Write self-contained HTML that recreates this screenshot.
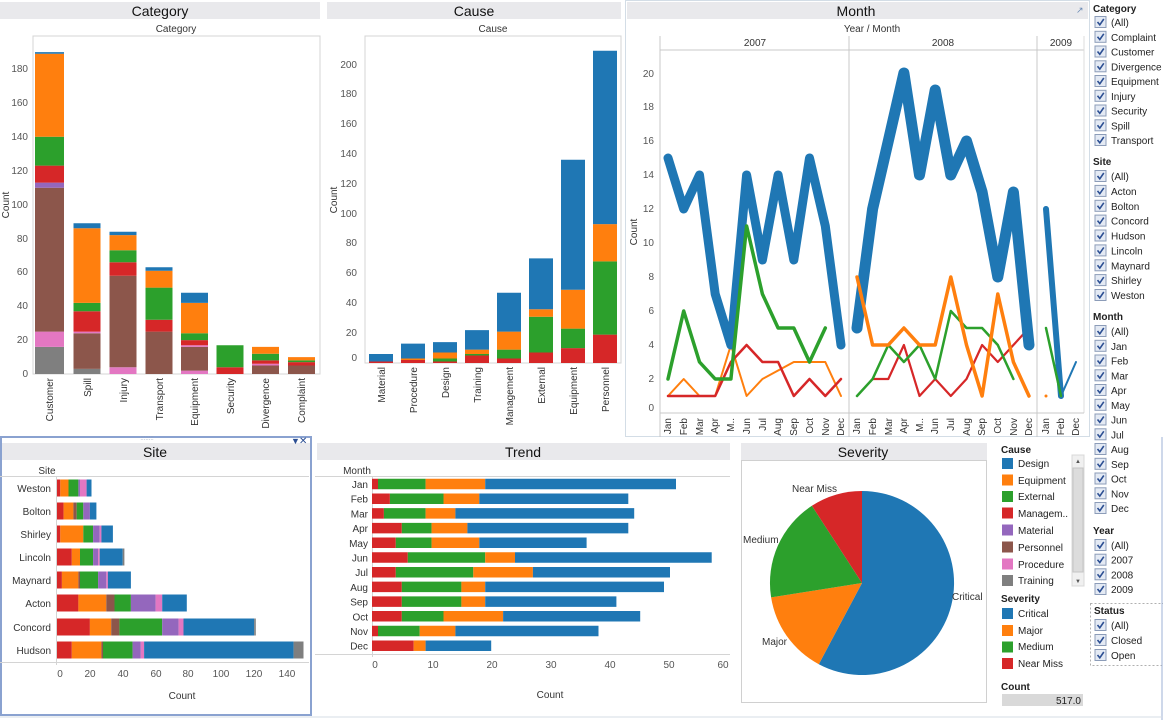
<!DOCTYPE html>
<html><head><meta charset="utf-8"><style>
html,body{margin:0;padding:0;background:#fff}
svg{display:block;font-family:"Liberation Sans",Arial,sans-serif}
.t{font-size:10px;fill:#555}
.tl{font-size:10px;fill:#333}
.h{font-size:14px;fill:#111}
.f{font-size:10px;fill:#222}
.fb{font-size:10px;fill:#222;font-weight:bold}
</style></head><body>
<svg width="1163" height="720" viewBox="0 0 1163 720">
<defs>
<g id="cb"><rect x="0" y="-5.5" width="11" height="11" fill="#e4eaf4" stroke="#8c9cb8" stroke-width="1"/><path d="M2.5,0 L4.8,2.8 L8.8,-3" stroke="#2c4f93" stroke-width="1.6" fill="none"/></g>
</defs>
<rect width="1163" height="720" fill="#fff"/>
<!-- ================= CATEGORY ================= -->
<rect x="0" y="2" width="320" height="17" fill="#e9e9ec"/>
<text x="160" y="16" class="h" text-anchor="middle">Category</text>
<text x="176" y="32" class="tl" text-anchor="middle">Category</text>
<rect x="33" y="36" width="287" height="338" fill="none" stroke="#d4d4d4"/>
<g class="t" text-anchor="end">
<text x="28" y="377">0</text><text x="28" y="343">20</text><text x="28" y="309">40</text><text x="28" y="275">60</text><text x="28" y="242">80</text><text x="28" y="208">100</text><text x="28" y="174">120</text><text x="28" y="140">140</text><text x="28" y="106">160</text><text x="28" y="72">180</text>
</g>
<text x="9" y="205" class="tl" transform="rotate(-90 9 205)" text-anchor="middle">Count</text>
<g stroke-width="29">
<line x1="49.5" x2="49.5" y1="374" y2="346.9" stroke="#7f7f7f"/><line x1="49.5" x2="49.5" y1="346.9" y2="331.6" stroke="#e377c2"/><line x1="49.5" x2="49.5" y1="331.6" y2="187.7" stroke="#8c564b"/><line x1="49.5" x2="49.5" y1="187.7" y2="182.6" stroke="#9467bd"/><line x1="49.5" x2="49.5" y1="182.6" y2="165.6" stroke="#d62728"/><line x1="49.5" x2="49.5" y1="165.6" y2="136.8" stroke="#2ca02c"/><line x1="49.5" x2="49.5" y1="136.8" y2="53.8" stroke="#ff7f0e"/><line x1="49.5" x2="49.5" y1="53.8" y2="52.1" stroke="#1f77b4"/>
</g>
<g stroke-width="27">
<line x1="87" x2="87" y1="374" y2="368.9" stroke="#7f7f7f"/><line x1="87" x2="87" y1="368.9" y2="333.3" stroke="#8c564b"/><line x1="87" x2="87" y1="333.3" y2="331.6" stroke="#e377c2"/><line x1="87" x2="87" y1="331.6" y2="311.3" stroke="#d62728"/><line x1="87" x2="87" y1="311.3" y2="302.9" stroke="#2ca02c"/><line x1="87" x2="87" y1="302.9" y2="228.3" stroke="#ff7f0e"/><line x1="87" x2="87" y1="228.3" y2="223.2" stroke="#1f77b4"/>
<line x1="123" x2="123" y1="374" y2="367.2" stroke="#e377c2"/><line x1="123" x2="123" y1="367.2" y2="275.7" stroke="#8c564b"/><line x1="123" x2="123" y1="275.7" y2="262.2" stroke="#d62728"/><line x1="123" x2="123" y1="262.2" y2="250.3" stroke="#2ca02c"/><line x1="123" x2="123" y1="250.3" y2="235.1" stroke="#ff7f0e"/><line x1="123" x2="123" y1="235.1" y2="231.7" stroke="#1f77b4"/>
<line x1="159" x2="159" y1="374" y2="331.6" stroke="#8c564b"/><line x1="159" x2="159" y1="331.6" y2="319.8" stroke="#d62728"/><line x1="159" x2="159" y1="319.8" y2="287.6" stroke="#2ca02c"/><line x1="159" x2="159" y1="287.6" y2="270.7" stroke="#ff7f0e"/><line x1="159" x2="159" y1="270.7" y2="267.3" stroke="#1f77b4"/>
<line x1="194.5" x2="194.5" y1="374" y2="370.6" stroke="#e377c2"/><line x1="194.5" x2="194.5" y1="370.6" y2="346.9" stroke="#8c564b"/><line x1="194.5" x2="194.5" y1="346.9" y2="345.2" stroke="#e377c2"/><line x1="194.5" x2="194.5" y1="345.2" y2="340.1" stroke="#d62728"/><line x1="194.5" x2="194.5" y1="340.1" y2="333.3" stroke="#2ca02c"/><line x1="194.5" x2="194.5" y1="333.3" y2="302.9" stroke="#ff7f0e"/><line x1="194.5" x2="194.5" y1="302.9" y2="292.7" stroke="#1f77b4"/>
<line x1="230" x2="230" y1="374" y2="367.2" stroke="#d62728"/><line x1="230" x2="230" y1="367.2" y2="345.2" stroke="#2ca02c"/>
<line x1="265.5" x2="265.5" y1="374" y2="365.5" stroke="#8c564b"/><line x1="265.5" x2="265.5" y1="365.5" y2="363.8" stroke="#e377c2"/><line x1="265.5" x2="265.5" y1="363.8" y2="360.4" stroke="#d62728"/><line x1="265.5" x2="265.5" y1="360.4" y2="353.7" stroke="#2ca02c"/><line x1="265.5" x2="265.5" y1="353.7" y2="346.9" stroke="#ff7f0e"/>
<line x1="301.5" x2="301.5" y1="374" y2="365.5" stroke="#8c564b"/><line x1="301.5" x2="301.5" y1="365.5" y2="362.1" stroke="#d62728"/><line x1="301.5" x2="301.5" y1="362.1" y2="360.4" stroke="#2ca02c"/><line x1="301.5" x2="301.5" y1="360.4" y2="357.1" stroke="#ff7f0e"/>
</g>
<g class="tl" text-anchor="end">
<text transform="translate(53,378) rotate(-90)">Customer</text><text transform="translate(91,378) rotate(-90)">Spill</text><text transform="translate(127,378) rotate(-90)">Injury</text><text transform="translate(163,378) rotate(-90)">Transport</text><text transform="translate(198,378) rotate(-90)">Equipment</text><text transform="translate(234,378) rotate(-90)">Security</text><text transform="translate(269,378) rotate(-90)">Divergence</text><text transform="translate(305,378) rotate(-90)">Complaint</text>
</g>
<!-- ================= CAUSE ================= -->
<rect x="327" y="2" width="294" height="17" fill="#e9e9ec"/>
<text x="474" y="16" class="h" text-anchor="middle">Cause</text>
<text x="493" y="32" class="tl" text-anchor="middle">Cause</text>
<rect x="365" y="36" width="256" height="327" fill="none" stroke="#d4d4d4"/>
<g class="t" text-anchor="end">
<text x="357" y="361">0</text><text x="357" y="336">20</text><text x="357" y="306">40</text><text x="357" y="276">60</text><text x="357" y="246">80</text><text x="357" y="217">100</text><text x="357" y="187">120</text><text x="357" y="157">140</text><text x="357" y="127">160</text><text x="357" y="97">180</text><text x="357" y="68">200</text>
</g>
<text x="337" y="200" class="tl" transform="rotate(-90 337 200)" text-anchor="middle">Count</text>
<g stroke-width="24">
<line x1="381" x2="381" y1="363" y2="361.5" stroke="#d62728"/><line x1="381" x2="381" y1="361.5" y2="354" stroke="#1f77b4"/>
<line x1="413" x2="413" y1="363" y2="360" stroke="#d62728"/><line x1="413" x2="413" y1="360" y2="358.5" stroke="#ff7f0e"/><line x1="413" x2="413" y1="358.5" y2="343.6" stroke="#1f77b4"/>
<line x1="445" x2="445" y1="363" y2="361.5" stroke="#d62728"/><line x1="445" x2="445" y1="361.5" y2="358.5" stroke="#2ca02c"/><line x1="445" x2="445" y1="358.5" y2="352.5" stroke="#ff7f0e"/><line x1="445" x2="445" y1="352.5" y2="342.1" stroke="#1f77b4"/>
<line x1="477" x2="477" y1="363" y2="355.5" stroke="#d62728"/><line x1="477" x2="477" y1="355.5" y2="354" stroke="#2ca02c"/><line x1="477" x2="477" y1="354" y2="349.6" stroke="#ff7f0e"/><line x1="477" x2="477" y1="349.6" y2="330.1" stroke="#1f77b4"/>
<line x1="509" x2="509" y1="363" y2="358.5" stroke="#d62728"/><line x1="509" x2="509" y1="358.5" y2="349.6" stroke="#2ca02c"/><line x1="509" x2="509" y1="349.6" y2="331.6" stroke="#ff7f0e"/><line x1="509" x2="509" y1="331.6" y2="292.8" stroke="#1f77b4"/>
<line x1="541" x2="541" y1="363" y2="352.5" stroke="#d62728"/><line x1="541" x2="541" y1="352.5" y2="316.7" stroke="#2ca02c"/><line x1="541" x2="541" y1="316.7" y2="309.2" stroke="#ff7f0e"/><line x1="541" x2="541" y1="309.2" y2="258.4" stroke="#1f77b4"/>
<line x1="573" x2="573" y1="363" y2="348.1" stroke="#d62728"/><line x1="573" x2="573" y1="348.1" y2="328.6" stroke="#2ca02c"/><line x1="573" x2="573" y1="328.6" y2="289.8" stroke="#ff7f0e"/><line x1="573" x2="573" y1="289.8" y2="159.8" stroke="#1f77b4"/>
<line x1="605" x2="605" y1="363" y2="334.6" stroke="#d62728"/><line x1="605" x2="605" y1="334.6" y2="261.4" stroke="#2ca02c"/><line x1="605" x2="605" y1="261.4" y2="224.1" stroke="#ff7f0e"/><line x1="605" x2="605" y1="224.1" y2="50.8" stroke="#1f77b4"/>
</g>
<g class="tl" text-anchor="end">
<text transform="translate(385,367) rotate(-90)">Material</text><text transform="translate(417,367) rotate(-90)">Procedure</text><text transform="translate(449,367) rotate(-90)">Design</text><text transform="translate(481,367) rotate(-90)">Training</text><text transform="translate(513,367) rotate(-90)">Management</text><text transform="translate(545,367) rotate(-90)">External</text><text transform="translate(577,367) rotate(-90)">Equipment</text><text transform="translate(609,367) rotate(-90)">Personnel</text>
</g>
<!-- ================= MONTH ================= -->
<rect x="625.5" y="0.5" width="464" height="436" fill="none" stroke="#d3dde6"/>
<rect x="627" y="2" width="461" height="17" fill="#e9e9ec"/>
<text x="856" y="16" class="h" text-anchor="middle">Month</text>
<text x="1076" y="13" font-size="9" fill="#6a8ab5">↗</text>
<text x="872" y="32" class="tl" text-anchor="middle">Year  /  Month</text>
<line x1="660" y1="36" x2="660" y2="437" stroke="#c8c8c8"/>
<line x1="660" y1="50" x2="1084" y2="50" stroke="#c8c8c8"/>
<line x1="849" y1="36" x2="849" y2="437" stroke="#c8c8c8"/>
<line x1="1037" y1="36" x2="1037" y2="437" stroke="#c8c8c8"/>
<line x1="1084" y1="36" x2="1084" y2="413" stroke="#dcdcdc"/>
<line x1="660" y1="413" x2="1084" y2="413" stroke="#c8c8c8"/>
<g class="tl" text-anchor="middle"><text x="755" y="46">2007</text><text x="943" y="46">2008</text><text x="1061" y="46">2009</text></g>
<g class="t" text-anchor="end">
<text x="654" y="411">0</text><text x="654" y="382">2</text><text x="654" y="348">4</text><text x="654" y="314">6</text><text x="654" y="280">8</text><text x="654" y="246">10</text><text x="654" y="212">12</text><text x="654" y="178">14</text><text x="654" y="144">16</text><text x="654" y="110">18</text><text x="654" y="77">20</text>
</g>
<text x="637" y="232" class="tl" transform="rotate(-90 637 232)" text-anchor="middle">Count</text>
<g fill="none" stroke-linejoin="round" stroke-linecap="round">
<polyline stroke="#ff7f0e" stroke-width="2" points="668,396 683.7,379 699.5,396 715.2,396 730.9,345 746.6,396 762.4,379 778.1,370.5 793.8,362 809.5,362 825.3,362 841,396"/>
<polyline stroke="#d62728" stroke-width="2.5" points="668,396 683.7,396 699.5,396 715.2,396 730.9,362 746.6,345 762.4,362 778.1,362 793.8,396 809.5,379 825.3,396 841,379"/>
<polyline stroke="#1f77b4" stroke-width="9" points="668,158 683.7,209 699.5,175 715.2,294 730.9,345 746.6,175 762.4,260 778.1,175 793.8,260 809.5,158 825.3,226 841,345"/>
<polyline stroke="#2ca02c" stroke-width="3.5" points="668,379 683.7,311 699.5,362 715.2,379 730.9,379 746.6,226 762.4,294 778.1,328 793.8,328 809.5,362 825.3,328"/>
<polyline stroke="#d62728" stroke-width="2.2" points="872.6,379 888.3,379 903.9,345 919.5,396 935.2,379 950.8,396 966.5,379 982.1,345 997.8,362 1013.4,345 1029,328"/>
<polyline stroke="#2ca02c" stroke-width="2.5" points="857,396 872.6,379 888.3,345 903.9,362 919.5,345 935.2,379 950.8,311 966.5,328 982.1,328 997.8,345 1013.4,379"/>
<polyline stroke="#1f77b4" stroke-width="11" points="857,328 872.6,209 888.3,141 903.9,73 919.5,175 935.2,90 950.8,175 966.5,141 982.1,192 997.8,277 1013.4,192 1029,345"/>
<polyline stroke="#ff7f0e" stroke-width="3.5" points="857,277 872.6,345 888.3,345 903.9,328 919.5,345 935.2,345 950.8,277 966.5,345 982.1,396 997.8,294 1013.4,362 1029,396"/>
<polyline stroke="#1f77b4" stroke-width="6" points="1046,209 1061,396"/>
<polyline stroke="#1f77b4" stroke-width="2" points="1061,396 1076,362"/>
<polyline stroke="#2ca02c" stroke-width="2.5" points="1046,328 1061,396"/>
</g>
<circle cx="1046" cy="396" r="1.5" fill="#ff7f0e"/>
<g class="tl" text-anchor="end">
<text transform="translate(671,418) rotate(-90)">Jan</text><text transform="translate(687,418) rotate(-90)">Feb</text><text transform="translate(703,418) rotate(-90)">Mar</text><text transform="translate(718,418) rotate(-90)">Apr</text><text transform="translate(734,418) rotate(-90)">M..</text><text transform="translate(750,418) rotate(-90)">Jun</text><text transform="translate(766,418) rotate(-90)">Jul</text><text transform="translate(781,418) rotate(-90)">Aug</text><text transform="translate(797,418) rotate(-90)">Sep</text><text transform="translate(813,418) rotate(-90)">Oct</text><text transform="translate(829,418) rotate(-90)">Nov</text><text transform="translate(844,418) rotate(-90)">Dec</text>
<text transform="translate(860,418) rotate(-90)">Jan</text><text transform="translate(876,418) rotate(-90)">Feb</text><text transform="translate(892,418) rotate(-90)">Mar</text><text transform="translate(907,418) rotate(-90)">Apr</text><text transform="translate(923,418) rotate(-90)">M..</text><text transform="translate(938,418) rotate(-90)">Jun</text><text transform="translate(954,418) rotate(-90)">Jul</text><text transform="translate(970,418) rotate(-90)">Aug</text><text transform="translate(985,418) rotate(-90)">Sep</text><text transform="translate(1001,418) rotate(-90)">Oct</text><text transform="translate(1017,418) rotate(-90)">Nov</text><text transform="translate(1032,418) rotate(-90)">Dec</text>
<text transform="translate(1049,418) rotate(-90)">Jan</text><text transform="translate(1064,418) rotate(-90)">Feb</text><text transform="translate(1079,418) rotate(-90)">Dec</text>
</g>
<!-- ================= FILTERS ================= -->
<g class="fb"><text x="1093" y="12">Category</text><text x="1093" y="165">Site</text><text x="1093" y="320">Month</text><text x="1093" y="534">Year</text></g>
<g>
<use href="#cb" x="1095" y="22"/><use href="#cb" x="1095" y="36.8"/><use href="#cb" x="1095" y="51.5"/><use href="#cb" x="1095" y="66.3"/><use href="#cb" x="1095" y="81"/><use href="#cb" x="1095" y="95.8"/><use href="#cb" x="1095" y="110.5"/><use href="#cb" x="1095" y="125.3"/><use href="#cb" x="1095" y="140"/>
<use href="#cb" x="1095" y="176"/><use href="#cb" x="1095" y="190.9"/><use href="#cb" x="1095" y="205.8"/><use href="#cb" x="1095" y="220.6"/><use href="#cb" x="1095" y="235.5"/><use href="#cb" x="1095" y="250.4"/><use href="#cb" x="1095" y="265.3"/><use href="#cb" x="1095" y="280.1"/><use href="#cb" x="1095" y="295"/>
<use href="#cb" x="1095" y="331"/><use href="#cb" x="1095" y="345.8"/><use href="#cb" x="1095" y="360.5"/><use href="#cb" x="1095" y="375.3"/><use href="#cb" x="1095" y="390"/><use href="#cb" x="1095" y="404.8"/><use href="#cb" x="1095" y="419.5"/><use href="#cb" x="1095" y="434.3"/><use href="#cb" x="1095" y="449"/><use href="#cb" x="1095" y="463.8"/><use href="#cb" x="1095" y="478.5"/><use href="#cb" x="1095" y="493.3"/><use href="#cb" x="1095" y="508"/>
<use href="#cb" x="1095" y="545"/><use href="#cb" x="1095" y="559.7"/><use href="#cb" x="1095" y="574.3"/><use href="#cb" x="1095" y="589"/>
<use href="#cb" x="1095" y="625"/><use href="#cb" x="1095" y="640"/><use href="#cb" x="1095" y="655"/>
</g>
<g class="f">
<text x="1111" y="26">(All)</text><text x="1111" y="40.8">Complaint</text><text x="1111" y="55.5">Customer</text><text x="1111" y="70.3">Divergence</text><text x="1111" y="85">Equipment</text><text x="1111" y="99.8">Injury</text><text x="1111" y="114.5">Security</text><text x="1111" y="129.3">Spill</text><text x="1111" y="144">Transport</text>
<text x="1111" y="180">(All)</text><text x="1111" y="194.9">Acton</text><text x="1111" y="209.8">Bolton</text><text x="1111" y="224.6">Concord</text><text x="1111" y="239.5">Hudson</text><text x="1111" y="254.4">Lincoln</text><text x="1111" y="269.3">Maynard</text><text x="1111" y="284.1">Shirley</text><text x="1111" y="299">Weston</text>
<text x="1111" y="335">(All)</text><text x="1111" y="349.8">Jan</text><text x="1111" y="364.5">Feb</text><text x="1111" y="379.3">Mar</text><text x="1111" y="394">Apr</text><text x="1111" y="408.8">May</text><text x="1111" y="423.5">Jun</text><text x="1111" y="438.3">Jul</text><text x="1111" y="453">Aug</text><text x="1111" y="467.8">Sep</text><text x="1111" y="482.5">Oct</text><text x="1111" y="497.3">Nov</text><text x="1111" y="512">Dec</text>
<text x="1111" y="549">(All)</text><text x="1111" y="563.7">2007</text><text x="1111" y="578.3">2008</text><text x="1111" y="593">2009</text>
<text x="1111" y="629">(All)</text><text x="1111" y="644">Closed</text><text x="1111" y="659">Open</text>
</g>
<rect x="1090.5" y="603.5" width="75" height="62" fill="none" stroke="#b0b0b0" stroke-dasharray="2,2"/>
<text x="1094" y="614" class="fb">Status</text>
<line x1="1162" y1="437" x2="1162" y2="720" stroke="#9db0d6"/>
<!-- ================= SITE ================= -->
<rect x="1" y="437" width="310" height="278" fill="none" stroke="#8aa2d0" stroke-width="2"/>
<rect x="2" y="443" width="308" height="17" fill="#e9e9ec"/>
<text x="155" y="457" class="h" text-anchor="middle">Site</text>
<text x="147" y="440" font-size="6" fill="#8a9ab5" text-anchor="middle">::::::::</text>
<text x="291" y="444" font-size="9" fill="#2c4f93">▼</text><text x="299" y="444" font-size="10" fill="#2c4f93">✕</text>
<text x="47" y="474" class="tl" text-anchor="middle">Site</text>
<line x1="0" y1="476.5" x2="309" y2="476.5" stroke="#d4d4d4"/>
<line x1="0" y1="662.5" x2="309" y2="662.5" stroke="#d4d4d4"/>
<line x1="56.5" y1="476" x2="56.5" y2="665" stroke="#d4d4d4"/>
<g class="tl" text-anchor="end">
<text x="51" y="492">Weston</text><text x="51" y="515">Bolton</text><text x="51" y="538">Shirley</text><text x="51" y="561">Lincoln</text><text x="51" y="584">Maynard</text><text x="51" y="607">Acton</text><text x="51" y="631">Concord</text><text x="51" y="654">Hudson</text>
</g>
<g stroke-width="17">
<line y1="488" y2="488" x1="57" x2="60.3" stroke="#d62728"/><line y1="488" y2="488" x1="60.3" x2="68.5" stroke="#ff7f0e"/><line y1="488" y2="488" x1="68.5" x2="78.4" stroke="#2ca02c"/><line y1="488" y2="488" x1="78.4" x2="80" stroke="#9467bd"/><line y1="488" y2="488" x1="80" x2="86.6" stroke="#e377c2"/><line y1="488" y2="488" x1="86.6" x2="91.5" stroke="#1f77b4"/>
<line y1="511" y2="511" x1="57" x2="63.6" stroke="#d62728"/><line y1="511" y2="511" x1="63.6" x2="73.4" stroke="#ff7f0e"/><line y1="511" y2="511" x1="73.4" x2="76.7" stroke="#8c564b"/><line y1="511" y2="511" x1="76.7" x2="83.3" stroke="#2ca02c"/><line y1="511" y2="511" x1="83.3" x2="89.9" stroke="#9467bd"/><line y1="511" y2="511" x1="89.9" x2="96.4" stroke="#1f77b4"/>
<line y1="534" y2="534" x1="57" x2="60.3" stroke="#d62728"/><line y1="534" y2="534" x1="60.3" x2="83.3" stroke="#ff7f0e"/><line y1="534" y2="534" x1="83.3" x2="93.1" stroke="#2ca02c"/><line y1="534" y2="534" x1="93.1" x2="99.7" stroke="#9467bd"/><line y1="534" y2="534" x1="99.7" x2="101.4" stroke="#e377c2"/><line y1="534" y2="534" x1="101.4" x2="112.9" stroke="#1f77b4"/>
<line y1="557" y2="557" x1="57" x2="71.8" stroke="#d62728"/><line y1="557" y2="557" x1="71.8" x2="80" stroke="#ff7f0e"/><line y1="557" y2="557" x1="80" x2="93.1" stroke="#2ca02c"/><line y1="557" y2="557" x1="93.1" x2="98.1" stroke="#9467bd"/><line y1="557" y2="557" x1="98.1" x2="99.7" stroke="#e377c2"/><line y1="557" y2="557" x1="99.7" x2="122.7" stroke="#1f77b4"/><line y1="557" y2="557" x1="122.7" x2="124.4" stroke="#7f7f7f"/>
<line y1="580" y2="580" x1="57" x2="61.9" stroke="#d62728"/><line y1="580" y2="580" x1="61.9" x2="78.4" stroke="#ff7f0e"/><line y1="580" y2="580" x1="78.4" x2="80" stroke="#8c564b"/><line y1="580" y2="580" x1="80" x2="98.1" stroke="#2ca02c"/><line y1="580" y2="580" x1="98.1" x2="106.3" stroke="#9467bd"/><line y1="580" y2="580" x1="106.3" x2="107.9" stroke="#e377c2"/><line y1="580" y2="580" x1="107.9" x2="130.9" stroke="#1f77b4"/>
<line y1="603" y2="603" x1="57" x2="78.4" stroke="#d62728"/><line y1="603" y2="603" x1="78.4" x2="106.3" stroke="#ff7f0e"/><line y1="603" y2="603" x1="106.3" x2="114.5" stroke="#8c564b"/><line y1="603" y2="603" x1="114.5" x2="130.9" stroke="#2ca02c"/><line y1="603" y2="603" x1="130.9" x2="155.6" stroke="#9467bd"/><line y1="603" y2="603" x1="155.6" x2="162.2" stroke="#e377c2"/><line y1="603" y2="603" x1="162.2" x2="186.8" stroke="#1f77b4"/>
<line y1="627" y2="627" x1="57" x2="89.9" stroke="#d62728"/><line y1="627" y2="627" x1="89.9" x2="111.2" stroke="#ff7f0e"/><line y1="627" y2="627" x1="111.2" x2="119.4" stroke="#8c564b"/><line y1="627" y2="627" x1="119.4" x2="162.2" stroke="#2ca02c"/><line y1="627" y2="627" x1="162.2" x2="178.6" stroke="#9467bd"/><line y1="627" y2="627" x1="178.6" x2="183.5" stroke="#e377c2"/><line y1="627" y2="627" x1="183.5" x2="254.2" stroke="#1f77b4"/><line y1="627" y2="627" x1="254.2" x2="255.8" stroke="#7f7f7f"/>
<line y1="650" y2="650" x1="57" x2="71.8" stroke="#d62728"/><line y1="650" y2="650" x1="71.8" x2="101.4" stroke="#ff7f0e"/><line y1="650" y2="650" x1="101.4" x2="103" stroke="#8c564b"/><line y1="650" y2="650" x1="103" x2="132.6" stroke="#2ca02c"/><line y1="650" y2="650" x1="132.6" x2="140.8" stroke="#9467bd"/><line y1="650" y2="650" x1="140.8" x2="144.1" stroke="#e377c2"/><line y1="650" y2="650" x1="144.1" x2="293.6" stroke="#1f77b4"/><line y1="650" y2="650" x1="293.6" x2="303.5" stroke="#7f7f7f"/>
</g>
<g class="t" text-anchor="middle">
<text x="60" y="677">0</text><text x="90" y="677">20</text><text x="123" y="677">40</text><text x="156" y="677">60</text><text x="188" y="677">80</text><text x="221" y="677">100</text><text x="254" y="677">120</text><text x="287" y="677">140</text>
</g>
<text x="182" y="699" class="tl" text-anchor="middle">Count</text>
<!-- ================= TREND ================= -->
<rect x="317" y="443" width="413" height="17" fill="#e9e9ec"/>
<text x="523" y="457" class="h" text-anchor="middle">Trend</text>
<text x="357" y="474" class="tl" text-anchor="middle">Month</text>
<line x1="315" y1="476.5" x2="730" y2="476.5" stroke="#d4d4d4"/>
<line x1="315" y1="654.5" x2="730" y2="654.5" stroke="#d4d4d4"/>
<line x1="372.5" y1="476" x2="372.5" y2="657" stroke="#d4d4d4"/>
<g class="tl" text-anchor="end">
<text x="368" y="488">Jan</text><text x="368" y="502.7">Feb</text><text x="368" y="517.4">Mar</text><text x="368" y="532.1">Apr</text><text x="368" y="546.8">May</text><text x="368" y="561.5">Jun</text><text x="368" y="576.2">Jul</text><text x="368" y="590.9">Aug</text><text x="368" y="605.6">Sep</text><text x="368" y="620.3">Oct</text><text x="368" y="635">Nov</text><text x="368" y="649.7">Dec</text>
</g>
<g stroke-width="10.5">
<line y1="484" y2="484" x1="372" x2="378" stroke="#d62728"/><line y1="484" y2="484" x1="378" x2="425.6" stroke="#2ca02c"/><line y1="484" y2="484" x1="425.6" x2="485.2" stroke="#ff7f0e"/><line y1="484" y2="484" x1="485.2" x2="676" stroke="#1f77b4"/>
<line y1="498.7" y2="498.7" x1="372" x2="389.9" stroke="#d62728"/><line y1="498.7" y2="498.7" x1="389.9" x2="443.5" stroke="#2ca02c"/><line y1="498.7" y2="498.7" x1="443.5" x2="479.3" stroke="#ff7f0e"/><line y1="498.7" y2="498.7" x1="479.3" x2="628.3" stroke="#1f77b4"/>
<line y1="513.4" y2="513.4" x1="372" x2="383.9" stroke="#d62728"/><line y1="513.4" y2="513.4" x1="383.9" x2="425.6" stroke="#2ca02c"/><line y1="513.4" y2="513.4" x1="425.6" x2="455.4" stroke="#ff7f0e"/><line y1="513.4" y2="513.4" x1="455.4" x2="634.2" stroke="#1f77b4"/>
<line y1="528.1" y2="528.1" x1="372" x2="401.8" stroke="#d62728"/><line y1="528.1" y2="528.1" x1="401.8" x2="431.6" stroke="#2ca02c"/><line y1="528.1" y2="528.1" x1="431.6" x2="467.4" stroke="#ff7f0e"/><line y1="528.1" y2="528.1" x1="467.4" x2="628.3" stroke="#1f77b4"/>
<line y1="542.8" y2="542.8" x1="372" x2="395.8" stroke="#d62728"/><line y1="542.8" y2="542.8" x1="395.8" x2="431.6" stroke="#2ca02c"/><line y1="542.8" y2="542.8" x1="431.6" x2="479.3" stroke="#ff7f0e"/><line y1="542.8" y2="542.8" x1="479.3" x2="586.6" stroke="#1f77b4"/>
<line y1="557.5" y2="557.5" x1="372" x2="407.8" stroke="#d62728"/><line y1="557.5" y2="557.5" x1="407.8" x2="485.2" stroke="#2ca02c"/><line y1="557.5" y2="557.5" x1="485.2" x2="515" stroke="#ff7f0e"/><line y1="557.5" y2="557.5" x1="515" x2="711.7" stroke="#1f77b4"/>
<line y1="572.2" y2="572.2" x1="372" x2="395.8" stroke="#d62728"/><line y1="572.2" y2="572.2" x1="395.8" x2="473.3" stroke="#2ca02c"/><line y1="572.2" y2="572.2" x1="473.3" x2="532.9" stroke="#ff7f0e"/><line y1="572.2" y2="572.2" x1="532.9" x2="670" stroke="#1f77b4"/>
<line y1="586.9" y2="586.9" x1="372" x2="401.8" stroke="#d62728"/><line y1="586.9" y2="586.9" x1="401.8" x2="461.4" stroke="#2ca02c"/><line y1="586.9" y2="586.9" x1="461.4" x2="485.2" stroke="#ff7f0e"/><line y1="586.9" y2="586.9" x1="485.2" x2="664" stroke="#1f77b4"/>
<line y1="601.6" y2="601.6" x1="372" x2="401.8" stroke="#d62728"/><line y1="601.6" y2="601.6" x1="401.8" x2="461.4" stroke="#2ca02c"/><line y1="601.6" y2="601.6" x1="461.4" x2="485.2" stroke="#ff7f0e"/><line y1="601.6" y2="601.6" x1="485.2" x2="616.4" stroke="#1f77b4"/>
<line y1="616.3" y2="616.3" x1="372" x2="401.8" stroke="#d62728"/><line y1="616.3" y2="616.3" x1="401.8" x2="443.5" stroke="#2ca02c"/><line y1="616.3" y2="616.3" x1="443.5" x2="503.1" stroke="#ff7f0e"/><line y1="616.3" y2="616.3" x1="503.1" x2="640.2" stroke="#1f77b4"/>
<line y1="631" y2="631" x1="372" x2="378" stroke="#d62728"/><line y1="631" y2="631" x1="378" x2="419.7" stroke="#2ca02c"/><line y1="631" y2="631" x1="419.7" x2="455.4" stroke="#ff7f0e"/><line y1="631" y2="631" x1="455.4" x2="598.5" stroke="#1f77b4"/>
<line y1="645.7" y2="645.7" x1="372" x2="413.7" stroke="#d62728"/><line y1="645.7" y2="645.7" x1="413.7" x2="425.6" stroke="#ff7f0e"/><line y1="645.7" y2="645.7" x1="425.6" x2="491.2" stroke="#1f77b4"/>
</g>
<g class="t" text-anchor="middle">
<text x="375" y="668">0</text><text x="433" y="668">10</text><text x="492" y="668">20</text><text x="551" y="668">30</text><text x="610" y="668">40</text><text x="669" y="668">50</text><text x="723" y="668">60</text>
</g>
<text x="550" y="698" class="tl" text-anchor="middle">Count</text>
<!-- ================= SEVERITY ================= -->
<rect x="741" y="443" width="246" height="17" fill="#e9e9ec"/>
<text x="863" y="457" class="h" text-anchor="middle">Severity</text>
<rect x="741.5" y="460.5" width="245" height="242" fill="none" stroke="#d0d0d0"/>
<path d="M862,583 L862,491 A92,92 0 1 1 818.8,664.2 Z" fill="#1f77b4"/>
<path d="M862,583 L818.8,664.2 A92,92 0 0 1 771.1,597.4 Z" fill="#ff7f0e"/>
<path d="M862,583 L771.1,597.4 A92,92 0 0 1 811.9,505.8 Z" fill="#2ca02c"/>
<path d="M862,583 L811.9,505.8 A92,92 0 0 1 862,491 Z" fill="#d62728"/>
<g class="tl"><text x="792" y="492">Near Miss</text><text x="743" y="543">Medium</text><text x="762" y="645">Major</text><text x="952" y="600">Critical</text></g>
<!-- ================= LEGENDS ================= -->
<g class="fb"><text x="1001" y="453">Cause</text><text x="1001" y="602">Severity</text><text x="1001" y="690">Count</text></g>
<g>
<rect x="1002" y="458" width="11" height="11" fill="#1f77b4"/><rect x="1002" y="474.5" width="11" height="11" fill="#ff7f0e"/><rect x="1002" y="491" width="11" height="11" fill="#2ca02c"/><rect x="1002" y="507.5" width="11" height="11" fill="#d62728"/><rect x="1002" y="524.5" width="11" height="11" fill="#9467bd"/><rect x="1002" y="541.5" width="11" height="11" fill="#8c564b"/><rect x="1002" y="558.5" width="11" height="11" fill="#e377c2"/><rect x="1002" y="575" width="11" height="11" fill="#7f7f7f"/>
<rect x="1002" y="608" width="11" height="11" fill="#1f77b4"/><rect x="1002" y="625" width="11" height="11" fill="#ff7f0e"/><rect x="1002" y="641.5" width="11" height="11" fill="#2ca02c"/><rect x="1002" y="658" width="11" height="11" fill="#d62728"/>
</g>
<g class="f">
<text x="1018" y="467">Design</text><text x="1018" y="484">Equipment</text><text x="1018" y="500">External</text><text x="1018" y="517">Managem..</text><text x="1018" y="534">Material</text><text x="1018" y="551">Personnel</text><text x="1018" y="568">Procedure</text><text x="1018" y="584">Training</text>
<text x="1018" y="617">Critical</text><text x="1018" y="634">Major</text><text x="1018" y="650">Medium</text><text x="1018" y="667">Near Miss</text>
</g>
<rect x="1072" y="455" width="12" height="131" fill="#f0f0f0" stroke="#d8d8d8"/>
<rect x="1073" y="468" width="10" height="104" fill="#dcdcdc" stroke="#c4c4c4"/>
<text x="1078" y="463" font-size="6" fill="#555" text-anchor="middle">▲</text>
<text x="1078" y="583" font-size="6" fill="#555" text-anchor="middle">▼</text>
<rect x="1002" y="694" width="81" height="12" fill="#d9d9d9"/>
<text x="1081" y="704" class="f" text-anchor="end">517.0</text>
<line x1="0" y1="717" x2="1163" y2="717" stroke="#d6dde6"/>
</svg>
</body></html>
